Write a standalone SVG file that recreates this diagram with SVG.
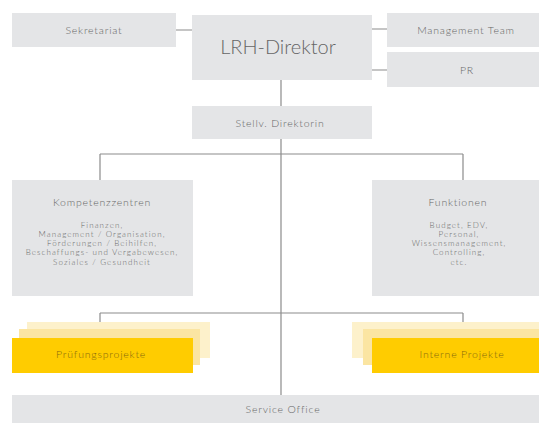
<svg xmlns="http://www.w3.org/2000/svg" width="539" height="423" viewBox="0 0 539 423">
<style>
.box{fill:#e4e5e7}
.t{font-family:Lato,"Open Sans",sans-serif;fill:#666666;text-anchor:middle;font-weight:300}
.s{font-size:10.5px;letter-spacing:0.8px}
.b{font-size:8px;letter-spacing:1.1px}
.y0{fill:#fdf1cb}
.y1{fill:#fbe5a2}
.y2{fill:#ffcc00}
.ty{font-family:Lato,"Open Sans",sans-serif;fill:#85690f;text-anchor:middle;font-size:10.5px;letter-spacing:0.8px;font-weight:300}
.c{stroke:#8c8c8c;stroke-width:1.2;fill:none}
</style>
<rect width="539" height="423" fill="#ffffff"/>
<g id="connectors">
<path class="c" d="M176 30H192M372 29H387M372 70H387M281 80V106M281 139V395M100 154H463M100 154V180M463 154V180M100 313H463M100 313V338M463 313V338"/>
</g>
<g id="sekretariat"><rect class="box" x="12" y="13" width="164" height="34"/><text class="t s" x="94" y="34">Sekretariat</text></g>
<g id="direktor"><rect class="box" x="192" y="15" width="180" height="65"/><text class="t" x="278" y="54" font-size="20">LRH-Direktor</text></g>
<g id="management"><rect class="box" x="387" y="13" width="152" height="34"/><text class="t s" x="466" y="34">Management Team</text></g>
<g id="pr"><rect class="box" x="387" y="52" width="152" height="35"/><text class="t s" x="467" y="74">PR</text></g>
<g id="stellv"><rect class="box" x="192" y="106" width="180" height="33"/><text class="t s" x="280" y="127">Stellv. Direktorin</text></g>
<g id="kompetenz"><rect class="box" x="12" y="180" width="181" height="116"/>
<text class="t s" x="102" y="206">Kompetenzzentren</text>
<text class="t b" x="102" y="228">Finanzen,</text>
<text class="t b" x="102" y="237">Management / Organisation,</text>
<text class="t b" x="102" y="246">Förderungen / Beihilfen,</text>
<text class="t b" x="102" y="255">Beschaffungs- und Vergabewesen,</text>
<text class="t b" x="102" y="265">Soziales / Gesundheit</text>
</g>
<g id="funktionen"><rect class="box" x="372" y="180" width="167" height="116"/>
<text class="t s" x="458" y="206">Funktionen</text>
<text class="t b" x="459" y="228">Budget, EDV,</text>
<text class="t b" x="459" y="237">Personal,</text>
<text class="t b" x="459" y="246">Wissensmanagement,</text>
<text class="t b" x="459" y="255">Controlling,</text>
<text class="t b" x="459" y="265">etc.</text>
</g>
<g id="pruefung">
<rect class="y0" x="27" y="322" width="183" height="36"/>
<rect class="y1" x="19" y="329" width="181" height="36"/>
<rect class="y2" x="12" y="338" width="181" height="35"/>
<text class="ty" x="101" y="358">Prüfungsprojekte</text>
</g>
<g id="intern">
<rect class="y0" x="352" y="322" width="187" height="36"/>
<rect class="y1" x="363" y="329" width="176" height="36"/>
<rect class="y2" x="372" y="338" width="167" height="35"/>
<text class="ty" x="462" y="358">Interne Projekte</text>
</g>
<g id="service"><rect class="box" x="12" y="395" width="527" height="28"/><text class="t s" x="283" y="413">Service Office</text></g>
</svg>
